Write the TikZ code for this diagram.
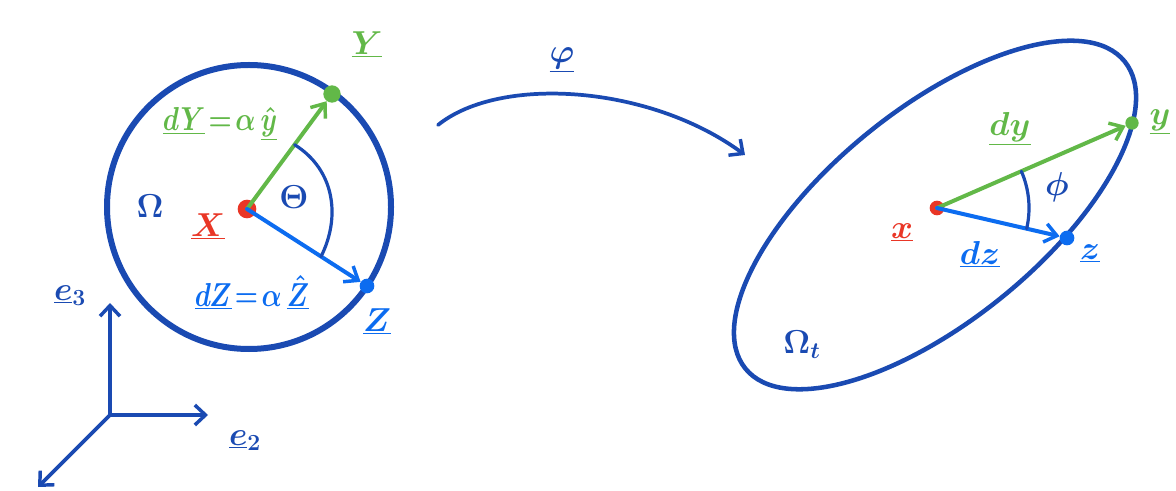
\documentclass[tikz,border=0pt]{standalone}
\usepackage{graphicx}
\usetikzlibrary{arrows.meta}
\definecolor{dkblue}{RGB}{26,74,178}
\definecolor{gr}{RGB}{98,184,72}
\definecolor{ltblue}{RGB}{12,108,240}
\definecolor{rd}{RGB}{233,54,38}
\tikzset{
  dot/.style={circle, inner sep=0pt, minimum size=#1},
  vec/.style={line width=3pt, line cap=round, -{Straight Barb[length=9pt,width=14pt,line width=2.6pt]}},
  axis/.style={dkblue, line width=2.8pt, line cap=round, -{Straight Barb[length=8pt,width=15pt,line width=2.6pt]}},
  anglearc/.style={dkblue, line width=2.4pt, line cap=round},
  fs/.style={inner sep=1pt, font=\boldmath\fontsize{#1}{#1}\selectfont},
}
\begin{document}
\begin{tikzpicture}[x=0.75pt,y=-0.75pt]
\useasboundingbox (0,0) rectangle (1176,491);
% left body
\draw[dkblue, line width=4.5pt] (249,207) circle [radius=142];
\node[dot=14pt, fill=rd] (X) at (247,209) {};
\node[dot=13pt, fill=gr] (Y) at (332,94) {};
\node[dot=11pt, fill=ltblue] (Z) at (367,286) {};
\draw[vec, gr] (X.center) -- (Y);
\draw[vec, ltblue] (X.center) -- (Z);
\draw[anglearc] (X.center) ++(-53.5:80) .. controls +(40,25) and +(20,-40) .. ([shift={(32.7:88)}]X.center);
\node[fs=28, dkblue] (theta) at (294,197) {$\Theta$};
\node[fs=25, dkblue] (Om) at (150,206) {$\Omega$};
\node[fs=39, rd] (Xl) at (208,226) {$\underline{X}$};
\node[fs=39, gr] (Yl) at (367,44) {$\underline{Y}$};
\node[fs=27, gr] (dY) at (220,124) {\scalebox{0.8}[1]{$\underline{dY}\!=\!\alpha\,\underline{\hat{y}}$}};
\node[fs=27, ltblue] (dZ) at (252,292) {\scalebox{0.8}[1]{$\underline{dZ}\!=\!\alpha\,\underline{\hat{Z}}$}};
\node[fs=33, ltblue] (Zl) at (377,321) {$\underline{Z}$};
% axes
\coordinate (O) at (110,415);
\coordinate (E3) at (110,303);
\coordinate (E2) at (208,415);
\coordinate (E1) at (38,487);
\draw[axis] (O) -- (E3);
\draw[axis] (O) -- (E2);
\draw[axis] (O) -- (E1);
\node[fs=25, dkblue] (e3) at (70,296) {$\underline{e}_3$};
\node[fs=25, dkblue] (e2) at (245,441) {$\underline{e}_2$};
% map
\coordinate (mapS) at (438,125);
\coordinate (mapE) at (745,155);
\draw[axis] (mapS) .. controls (500,75) and (650,85) .. (mapE);
\node[fs=35, dkblue] (phi) at (562,60) {$\underline{\varphi}$};
% right body
\draw[dkblue, line width=3.4pt, rotate around={39:(935,215)}] (935,215) ellipse [x radius=244, y radius=106];
\node[dot=11pt, fill=rd] (x) at (937,208) {};
\node[dot=10pt, fill=gr] (y) at (1132,123) {};
\node[dot=11pt, fill=ltblue] (z) at (1067,238) {};
\draw[vec, gr] (x.center) -- (y);
\draw[vec, ltblue] (x.center) -- (z);
\draw[anglearc] (x.center) ++(-23.5:92) arc[start angle=-23.5, end angle=13, radius=92];
\node[fs=41, dkblue] (phil) at (1057,187) {$\phi$};
\node[fs=32, gr] (dy) at (1010,129) {$\underline{dy}$};
\node[fs=34, gr, anchor=west] (yl) at (1148,122) {$\underline{y}$};
\node[fs=26, rd] (xl) at (902,232) {$\underline{x}$};
\node[fs=30, ltblue] (dz) at (980,254) {$\underline{dz}$};
\node[fs=27, ltblue] (zl) at (1090,253) {$\underline{z}$};
\node[fs=25, dkblue] (Omt) at (802,345) {$\Omega_t$};
\end{tikzpicture}
\end{document}
